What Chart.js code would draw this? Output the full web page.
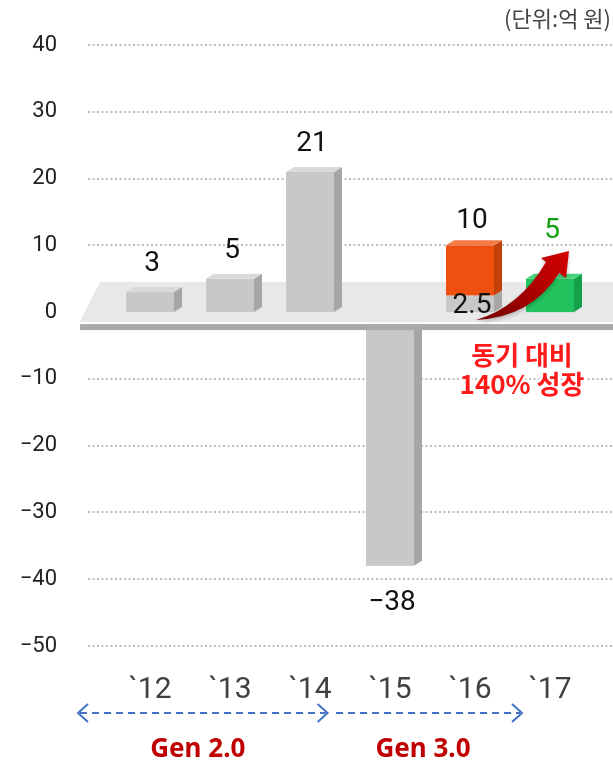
<!DOCTYPE html>
<html>
<head>
<meta charset="utf-8">
<script src="https://cdn.jsdelivr.net/npm/chart.js@4.4.0/dist/chart.umd.min.js"></script>
<style>
  html, body { margin: 0; padding: 0; background: #fff; }
  #wrap { width: 613px; height: 765px; }
</style>
</head>
<body>
<div id="wrap"><canvas id="chart" width="613" height="765"></canvas></div>
<script>
// data
const years = ['`12', '`13', '`14', '`15', '`16', '`17']
const results = [3, 5, 21, -38, 2.5, null]
const growth16 = [null, null, null, null, [2.5, 10], null]
const result17 = [null, null, null, null, null, 5]
const insideLabel = [false, false, false, false, true, false]
const yTicks = [40, 30, 20, 10, 0, -10, -20, -30, -40, -50]
const unitText = '(단위:억 원)'
const growthText = ['동기 대비', '140% 성장']
const gens = [
    {label: 'Gen 2.0', from: 0, to: 2},
    {label: 'Gen 3.0', from: 3, to: 4}
]

// face colours for the fake 3d boxes: front, top, side
const faces = [
    {front: '#c8c8c8', top: '#dadada', side: '#a6a6a6', label: '#111', lift: 28},
    {front: '#f0500f', top: '#f47a48', side: '#c2410a', label: '#111', lift: 24},
    {front: '#22c35f', top: '#48d47e', side: '#12a048', label: '#12a012', lift: 48}
]

const fmt = v => v < 0 ? '−' + Math.abs(v) : String(v)

function drawFloor(ctx, x0, y0, right) {
    ctx.save()
    ctx.fillStyle = '#e8e8e8'
    ctx.beginPath()
    ctx.moveTo(x0 - 10, y0 - 30)
    ctx.lineTo(right, y0 - 30)
    ctx.lineTo(right, y0 + 10)
    ctx.lineTo(x0 - 30, y0 + 10)
    ctx.closePath()
    ctx.fill()
    ctx.fillStyle = '#ffffff'
    ctx.fillRect(x0 - 30, y0 + 10, right - x0 + 30, 2)
    ctx.fillStyle = '#a9a9a9'
    ctx.fillRect(x0 - 30, y0 + 12, right - x0 + 30, 6)
    ctx.restore()
}

const decor = {
    id: 'decor',
    beforeDatasetsDraw(chart) {
        const {ctx, scales: {y}} = chart
        // dotted grid lines, running past the plot area like the original
        ctx.save()
        ctx.strokeStyle = '#bdbdbd'
        ctx.lineWidth = 2
        ctx.setLineDash([2, 2.5])
        yTicks.forEach(v => {
            const py = Math.round(y.getPixelForValue(v))
            ctx.beginPath()
            ctx.moveTo(88, py)
            ctx.lineTo(chart.width, py)
            ctx.stroke()
        })
        ctx.restore()
    },
    afterDatasetsDraw(chart) {
        const {ctx, chartArea, scales: {x, y}} = chart
        const y0 = y.getPixelForValue(0)
        const dx = 8, dy = 5

        // negative bars first, then the floor, then the rest on top of it
        const boxes = []
        chart.data.datasets.forEach((ds, di) => {
            const meta = chart.getDatasetMeta(di)
            meta.data.forEach((bar, i) => {
                if (ds.data[i] == null) return
                const p = bar.getProps(['x', 'y', 'base', 'width'], true)
                boxes.push({p, f: faces[di], neg: p.y > p.base})
            })
        })
        const drawBox = ({p, f, neg}) => {
            const L = p.x - p.width / 2, R = p.x + p.width / 2
            const top = Math.min(p.y, p.base), bot = Math.max(p.y, p.base)
            ctx.fillStyle = f.front
            ctx.fillRect(L, top, R - L, bot - top)
            ctx.fillStyle = f.side
            ctx.beginPath()
            ctx.moveTo(R, top); ctx.lineTo(R + dx, top - dy)
            ctx.lineTo(R + dx, bot - dy); ctx.lineTo(R, bot)
            ctx.closePath(); ctx.fill()
            if (neg) return
            ctx.fillStyle = f.top
            ctx.beginPath()
            ctx.moveTo(L, top); ctx.lineTo(L + dx, top - dy)
            ctx.lineTo(R + dx, top - dy); ctx.lineTo(R, top)
            ctx.closePath(); ctx.fill()
        }
        ctx.save()
        boxes.filter(b => b.neg).forEach(drawBox)
        drawFloor(ctx, chartArea.left, y0, chart.width)
        boxes.filter(b => !b.neg).forEach(drawBox)
        ctx.restore()

        // value labels
        ctx.save()
        ctx.textAlign = 'center'
        ctx.textBaseline = 'middle'
        ctx.font = '28px Roboto'
        chart.data.datasets.forEach((ds, di) => {
            const meta = chart.getDatasetMeta(di)
            meta.data.forEach((bar, i) => {
                let v = ds.data[i]
                if (v == null) return
                if (Array.isArray(v)) v = v[1]
                const p = bar.getProps(['x', 'y', 'base'], true)
                ctx.fillStyle = faces[di].label
                let ly
                if (di === 0 && insideLabel[i]) ly = (p.y + p.base) / 2 + 2
                else if (v < 0) ly = p.y + 37
                else ly = p.y - faces[di].lift
                ctx.fillText(fmt(v), p.x + 2, ly)
            })
        })
        ctx.restore()

        // red growth arrow between '16 and '17
        const c4 = x.getPixelForValue(4), c5 = x.getPixelForValue(5)
        const w = c5 - c4
        const tail = [c4 + 6, y0 + 8]
        ctx.save()
        const g = ctx.createLinearGradient(tail[0], tail[1], c5 + 19, y.getPixelForValue(9))
        g.addColorStop(0, '#6e0000')
        g.addColorStop(0.6, '#b00000')
        g.addColorStop(1, '#d40000')
        ctx.fillStyle = g
        ctx.shadowColor = 'rgba(0,0,0,0.25)'
        ctx.shadowBlur = 4
        ctx.shadowOffsetY = 2
        ctx.beginPath()
        ctx.moveTo(tail[0], tail[1])
        ctx.quadraticCurveTo(c4 + 62, y0 + 5, c5 + 9, y0 - 39)
        ctx.lineTo(c5 + 16, y0 - 34)
        ctx.lineTo(c5 + 19, y0 - 61)
        ctx.lineTo(c5 - 9, y0 - 54)
        ctx.lineTo(c5 - 4, y0 - 50)
        ctx.quadraticCurveTo(c4 + 50, y0 - 5, tail[0], tail[1])
        ctx.closePath()
        ctx.fill()
        ctx.restore()

        // growth text
        ctx.save()
        ctx.textAlign = 'center'
        ctx.textBaseline = 'middle'
        ctx.font = 'bold 26px "Noto Sans CJK KR"'
        ctx.lineJoin = 'round'
        const gx = c4 + 0.65 * w
        growthText.forEach((t, k) => {
            const ty = y0 + 43 + k * 29
            ctx.strokeStyle = '#fff'
            ctx.lineWidth = 5
            ctx.strokeText(t, gx, ty)
            ctx.fillStyle = '#ff1a1a'
            ctx.fillText(t, gx, ty)
        })
        ctx.restore()
    },
    afterDraw(chart) {
        const {ctx, scales: {x}} = chart
        const w = x.getPixelForValue(1) - x.getPixelForValue(0)
        const ay = 713

        // generation arrows and labels
        ctx.save()
        ctx.strokeStyle = '#4472c4'
        ctx.lineWidth = 2
        const spans = [
            [x.getPixelForValue(gens[0].from) - 0.9 * w, x.getPixelForValue(gens[0].to) + 0.22 * w, true],
            [x.getPixelForValue(gens[1].from) - 0.7 * w, x.getPixelForValue(gens[1].to) + 0.65 * w, false]
        ]
        spans.forEach(([a, b, both], k) => {
            ctx.setLineDash([7, 5])
            ctx.beginPath()
            ctx.moveTo(a + 2, ay); ctx.lineTo(b - 2, ay)
            ctx.stroke()
            ctx.setLineDash([])
            ctx.beginPath()
            ctx.moveTo(b - 10, ay - 9); ctx.lineTo(b, ay); ctx.lineTo(b - 10, ay + 9)
            ctx.stroke()
            if (both) {
                ctx.beginPath()
                ctx.moveTo(a + 10, ay - 9); ctx.lineTo(a, ay); ctx.lineTo(a + 10, ay + 9)
                ctx.stroke()
            }
            ctx.fillStyle = '#c00000'
            ctx.font = 'bold 26px "Noto Sans"'
            ctx.textAlign = 'center'
            ctx.textBaseline = 'middle'
            ctx.fillText(gens[k].label, (a + b) / 2 - 5, 750)
        })

        // unit
        ctx.fillStyle = '#444'
        ctx.font = '22px "Noto Sans CJK KR"'
        ctx.textAlign = 'right'
        ctx.textBaseline = 'middle'
        ctx.fillText(unitText, 611, 19)
        ctx.restore()
    }
}

const ctx = document.getElementById('chart').getContext('2d')

const chart = new Chart(ctx, {
    type: 'bar',
    data: {
        labels: years,
        datasets: [
            {data: results, backgroundColor: 'rgba(0,0,0,0)'},
            {data: growth16, backgroundColor: 'rgba(0,0,0,0)'},
            {data: result17, backgroundColor: 'rgba(0,0,0,0)'}
        ]
    },
    options: {
        responsive: false,
        animation: false,
        layout: {padding: {top: 45, right: 23, bottom: 31, left: 0}},
        datasets: {bar: {grouped: false, barPercentage: 0.6, categoryPercentage: 1}},
        plugins: {legend: {display: false}, tooltip: {enabled: false}},
        scales: {
            x: {
                offset: true,
                grid: {display: false, drawTicks: false},
                border: {display: false},
                ticks: {color: '#404040', padding: 26, maxRotation: 0, font: {family: 'Roboto', size: 30}}
            },
            y: {
                min: -50,
                max: 40,
                grid: {display: false, drawTicks: false},
                border: {display: false},
                afterBuildTicks: s => { s.ticks = yTicks.slice().reverse().map(v => ({value: v})) },
                afterFit: s => {
                    // labels sit far from the plot; keep that gap out of the vertical padding
                    s.width = 110
                    s.paddingTop = 0
                    s.paddingBottom = 0
                },
                ticks: {
                    color: '#222',
                    padding: 53,
                    font: {family: 'Roboto', size: 22},
                    callback: v => fmt(v)
                }
            }
        }
    },
    plugins: [decor]
})
</script>
</body>
</html>
